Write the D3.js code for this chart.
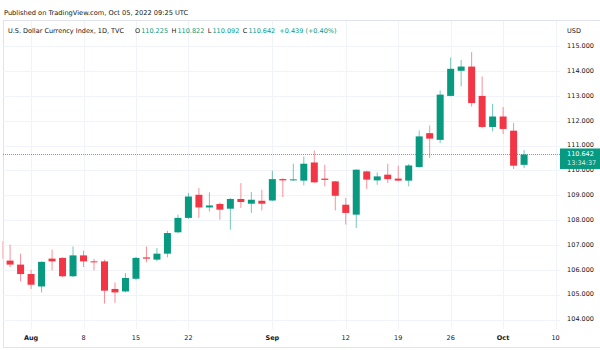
<!DOCTYPE html>
<html>
<head>
<meta charset="utf-8">
<script src="https://cdn.jsdelivr.net/npm/d3@7"></script>
<style>
  html, body { margin: 0; padding: 0; background: #ffffff; }
  svg { display: block; }
  text { font-family: "DejaVu Sans", Verdana, sans-serif; }
</style>
</head>
<body>
<svg id="chart" width="600" height="350"></svg>
<script>
// ---- Data ----
const dates = [
  "2022-07-27","2022-07-28","2022-07-29",
  "2022-08-01","2022-08-02","2022-08-03","2022-08-04","2022-08-05",
  "2022-08-08","2022-08-09","2022-08-10","2022-08-11","2022-08-12",
  "2022-08-15","2022-08-16","2022-08-17","2022-08-18","2022-08-19",
  "2022-08-22","2022-08-23","2022-08-24","2022-08-25","2022-08-26",
  "2022-08-29","2022-08-30","2022-08-31","2022-09-01","2022-09-02",
  "2022-09-05","2022-09-06","2022-09-07","2022-09-08","2022-09-09",
  "2022-09-12","2022-09-13","2022-09-14","2022-09-15","2022-09-16",
  "2022-09-19","2022-09-20","2022-09-21","2022-09-22","2022-09-23",
  "2022-09-26","2022-09-27","2022-09-28","2022-09-29","2022-09-30",
  "2022-10-03","2022-10-04","2022-10-05"
];
const opens = [
  107.15,106.37,106.21,
  105.83,105.33,106.45,106.48,105.74,
  106.58,106.34,106.34,105.23,105.13,
  105.64,106.50,106.41,106.65,107.51,
  108.09,109.02,108.51,108.65,108.46,
  108.85,108.66,108.78,108.79,109.65,
  109.60,109.59,110.32,109.67,109.56,
  108.62,108.22,109.96,109.60,109.83,
  109.67,109.59,110.14,111.50,111.23,
  113.00,114.01,114.18,113.00,111.75,
  112.17,111.60,110.225
];
const highs = [
  107.35,107.01,106.65,
  106.00,106.34,106.81,106.50,106.94,
  106.77,106.44,106.41,105.49,105.87,
  106.52,106.94,106.88,107.57,108.22,
  109.09,109.29,109.12,108.71,108.89,
  109.49,109.13,109.22,109.99,109.69,
  110.27,110.56,110.80,110.23,109.58,
  108.89,110.05,109.99,109.92,110.27,
  110.19,110.26,111.61,111.81,113.22,
  114.55,114.45,114.76,113.78,112.68,
  112.55,111.91,110.822
];
const lows = [
  106.30,106.11,105.53,
  105.23,105.09,105.98,105.71,105.71,
  106.11,105.98,104.64,104.67,105.09,
  105.58,106.30,106.34,106.50,107.48,
  108.05,108.09,108.35,108.02,107.61,
  108.49,108.29,108.39,108.77,108.93,
  109.58,109.40,109.50,109.36,108.39,
  107.82,107.68,109.26,109.42,109.49,
  109.56,109.36,110.10,110.50,111.10,
  112.98,113.38,112.57,111.70,111.57,
  111.46,110.06,110.092
];
const closes = [
  106.45,106.21,105.83,
  105.40,106.32,106.34,105.74,106.58,
  106.34,106.30,105.16,105.09,105.67,
  106.48,106.45,106.65,107.48,108.09,
  108.95,108.51,108.59,108.42,108.85,
  108.73,108.82,108.66,109.65,109.60,
  109.64,110.27,109.52,109.62,108.98,
  108.29,110.03,109.63,109.76,109.65,
  109.59,110.20,111.37,111.28,113.05,
  114.09,114.18,112.71,111.75,112.17,
  111.67,110.19,110.642
];
const priceTicks = [104,105,106,107,108,109,110,111,112,113,114,115];
const timeTickDates  = ["2022-08-01","2022-08-08","2022-08-15","2022-08-22","2022-09-01","2022-09-12","2022-09-19","2022-09-26","2022-10-03","2022-10-10"];
const timeTickLabels = ["Aug","8","15","22","Sep","12","19","26","Oct","10"];
const timeTickMonth  = [true,false,false,false,true,false,false,false,true,false];
const lastPrice = 110.642;
const countdown = "13:34:37";
const publishedText = "Published on TradingView.com, Oct 05, 2022 09:25 UTC";
const symbolText = "U.S. Dollar Currency Index, 1D, TVC";
const legendKeys = ["O","H","L","C"];
const legendVals = ["110.225","110.822","110.092","110.642"];
const changeText = "+0.439 (+0.40%)";
const currency = "USD";

// ---- Helpers ----
const UP = "#089981", DOWN = "#f23645", TXT = "#131722", GRID = "#f0f3fa", BORDER = "#e0e3eb";
const FS = 6.5;
const parse = d3.utcParse("%Y-%m-%d");
const start = parse(dates[0]);
function tradingIndex(ds) {
  const d = parse(ds);
  return d3.utcDay.count(start, d) - (d3.utcSaturday.count(start, d) + d3.utcSunday.count(start, d));
}

const svg = d3.select("#chart");
const pane = { left: 3, right: 560, top: 20, bottom: 329 };

const x = d3.scaleLinear().domain([0, 53.5]).range([-0.4, 560.8]);
const y = d3.scaleLinear().domain([104, 115]).range([319.5, 46.2]);

// frame
svg.append("line").attr("x1", 3).attr("x2", 600).attr("y1", 20.5).attr("y2", 20.5).attr("stroke", BORDER);
svg.append("line").attr("x1", 3.5).attr("x2", 3.5).attr("y1", 20).attr("y2", 347).attr("stroke", BORDER);
svg.append("line").attr("x1", 3).attr("x2", 600).attr("y1", 347.5).attr("y2", 347.5).attr("stroke", BORDER);

// gridlines
svg.append("g").selectAll("line").data(priceTicks).join("line")
  .attr("x1", pane.left).attr("x2", pane.right)
  .attr("y1", d => Math.round(y(d)) + 0.5).attr("y2", d => Math.round(y(d)) + 0.5)
  .attr("stroke", GRID);
svg.append("g").selectAll("line").data(timeTickDates).join("line")
  .attr("x1", d => Math.round(x(tradingIndex(d))) + 0.5).attr("x2", d => Math.round(x(tradingIndex(d))) + 0.5)
  .attr("y1", pane.top + 1).attr("y2", pane.bottom)
  .attr("stroke", GRID);

// candles
svg.append("defs").append("clipPath").attr("id", "clip")
  .append("rect").attr("x", 2.4).attr("y", pane.top).attr("width", pane.right - 2.4).attr("height", pane.bottom - pane.top);
const data = dates.map((d, i) => ({ d, i: tradingIndex(d), o: opens[i], h: highs[i], l: lows[i], c: closes[i] }));
const g = svg.append("g").attr("clip-path", "url(#clip)");
const bw = 7;
g.selectAll("line.wick").data(data).join("line").attr("class", "wick")
  .attr("x1", d => x(d.i)).attr("x2", d => x(d.i))
  .attr("y1", d => y(d.h)).attr("y2", d => y(d.l))
  .attr("stroke", d => d.c >= d.o ? UP : DOWN).attr("stroke-opacity", 0.55).attr("stroke-width", 1);
g.selectAll("rect.body").data(data).join("rect").attr("class", "body")
  .attr("x", d => x(d.i) - bw / 2).attr("width", bw)
  .attr("y", d => y(Math.max(d.o, d.c)))
  .attr("height", d => Math.max(1, Math.abs(y(d.o) - y(d.c))))
  .attr("fill", d => d.c >= d.o ? UP : DOWN)
  .attr("fill-opacity", d => d.i === 0 ? 0.45 : 1);

// last price dotted line
svg.append("line").attr("x1", pane.left).attr("x2", pane.right)
  .attr("y1", Math.round(y(lastPrice)) + 0.5).attr("y2", Math.round(y(lastPrice)) + 0.5)
  .attr("stroke", UP).attr("stroke-width", 1).attr("stroke-dasharray", "1,1").attr("opacity", 0.7);

// price axis labels
svg.append("text").attr("x", 567).attr("y", 31).attr("font-size", FS).attr("fill", TXT)
  .attr("dominant-baseline", "middle").text(currency);
svg.append("g").selectAll("text").data(priceTicks).join("text")
  .attr("x", 594).attr("y", d => y(d)).attr("text-anchor", "end")
  .attr("dominant-baseline", "middle").attr("font-size", FS).attr("fill", TXT)
  .text(d => d3.format(".3f")(d));

// last price box
const ly = y(lastPrice);
svg.append("rect").attr("x", 560).attr("y", ly - 6).attr("width", 40).attr("height", 20.5).attr("fill", UP);
svg.append("text").attr("x", 567).attr("y", ly).attr("dominant-baseline", "middle")
  .attr("font-size", FS).attr("fill", "#ffffff").text(d3.format(".3f")(lastPrice));
svg.append("text").attr("x", 567).attr("y", ly + 9).attr("dominant-baseline", "middle")
  .attr("font-size", FS).attr("fill", "#ffffff").attr("fill-opacity", 0.85).text(countdown);

// time axis labels
svg.append("g").selectAll("text").data(timeTickDates).join("text")
  .attr("x", d => x(tradingIndex(d))).attr("y", 338).attr("text-anchor", "middle")
  .attr("dominant-baseline", "middle").attr("font-size", FS).attr("fill", TXT)
  .attr("font-weight", (d, i) => timeTickMonth[i] ? "bold" : "normal")
  .text((d, i) => timeTickLabels[i]);

// header
svg.append("text").attr("x", 4).attr("y", 13).attr("dominant-baseline", "middle")
  .attr("font-size", 6.65).attr("fill", TXT).text(publishedText);
const leg = svg.append("text").attr("x", 8).attr("y", 31).attr("dominant-baseline", "middle")
  .attr("font-size", FS).attr("fill", TXT);
leg.append("tspan").text(symbolText);
legendKeys.forEach((k, i) => {
  leg.append("tspan").attr("dx", i === 0 ? 11 : 3.5).attr("fill", TXT).text(k);
  leg.append("tspan").attr("dx", 1).attr("fill", UP).text(legendVals[i]);
});
leg.append("tspan").attr("dx", 4).attr("fill", UP).text(changeText);
</script>
</body>
</html>
